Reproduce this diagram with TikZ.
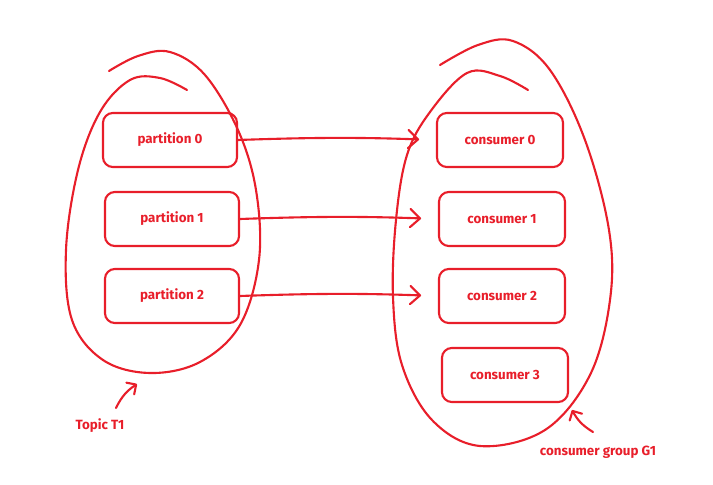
\documentclass[tikz,border=0pt]{standalone}
\usepackage{fontspec}
\setmainfont{Fira Sans}
\usetikzlibrary{arrows.meta}

\definecolor{sketchred}{RGB}{232,30,42}

\tikzset{
  sketch/.style={draw=sketchred, line width=1.5pt, line cap=round, line join=round},
  box/.style={sketch, rounded corners=7pt, minimum width=3.35cm, minimum height=1.35cm,
    text=sketchred, font=\fontsize{9.5}{11}\selectfont\bfseries},
  member/.style={box, minimum width=3.15cm},
  link/.style={sketch, -{Straight Barb[length=7pt,width=13pt,round]}, shorten >=0.42cm},
  hint/.style={sketch, -{Straight Barb[length=5pt,width=10pt,round]}},
  note/.style={text=sketchred, font=\fontsize{9.5}{11}\selectfont\bfseries}
}

\begin{document}
\begin{tikzpicture}[x=0.025cm,y=-0.025cm]

\useasboundingbox (0,0) rectangle (713,485);

% topic T1
\draw[sketch] plot[smooth, tension=0.6] coordinates {
  (187,90) (160,78) (130,80) (100,112) (78,170) (66,250) (72,320) (103,360)
  (150,373) (200,362) (240,325) (259,260) (256,190) (238,130) (205,75)
  (170,52) (138,56) (109,71)};

\node[box] (p0) at (170,140) {partition 0};
\node[box] (p1) at (172,219) {partition 1};
\node[box] (p2) at (172,296) {partition 2};

% consumer group G1
\draw[sketch] plot[smooth, tension=0.6] coordinates {
  (528,90) (500,76) (467,73) (430,112) (407,155) (396,220) (393,297)
  (402,365) (432,420) (480,446) (545,430) (590,375) (610,300) (609,230)
  (585,140) (550,70) (513,41) (478,45) (440,65)};

\node[member] (c0) at (500,140) {consumer 0};
\node[member] (c1) at (502,219) {consumer 1};
\node[member] (c2) at (502,296) {consumer 2};
\node[member] (c3) at (505,375) {consumer 3};

\draw[link] (p0.east) to[bend left=2] (c0.west);
\draw[link] (p1.east) to[bend left=2] (c1.west);
\draw[link] (p2.east) to[bend left=2] (c2.west);

\node[note] (topic) at (100,426) {Topic T1};
\node[note] (group) at (598,452) {consumer group G1};

\coordinate (topicend) at (137,384);
\coordinate (groupend) at (572,410);
\draw[hint] (116,408) to[bend left=15] (topicend);
\draw[hint] (593,432) to[bend left=15] (groupend);

\end{tikzpicture}
\end{document}
